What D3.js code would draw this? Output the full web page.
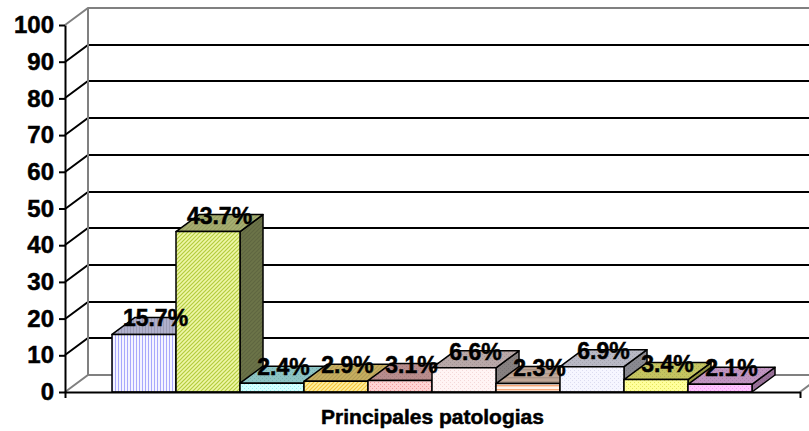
<!DOCTYPE html>
<html><head><meta charset="utf-8">
<script src="https://cdn.jsdelivr.net/npm/d3@7"></script>
<style>
body{margin:0;background:#fff}
svg{display:block}
text{font-family:"Liberation Sans",Arial,sans-serif;font-weight:bold;fill:#000;stroke:#000;stroke-width:0.5px}
</style>
</head><body>
<svg id="c" width="809" height="431"></svg>
<script>
// ---- data ----
const categories = ["Principales patologias"];
const seriesNames = ["Patología 1","Patología 2","Patología 3","Patología 4","Patología 5","Patología 6","Patología 7","Patología 8","Patología 9","Patología 10"];
const values = [15.7, 43.7, 2.4, 2.9, 3.1, 6.6, 2.3, 6.9, 3.4, 2.1];
const valueLabels = ["15.7%","43.7%","2.4%","2.9%","3.1%","6.6%","2.3%","6.9%","3.4%","2.1%"];
const yTicks = [0,10,20,30,40,50,60,70,80,90,100];

// ---- styles ----
const styles = [
  {base:"#f4f4ff", ink:"#a8a8fc", kind:"v",   top:"#b0b0cc", side:"#8888a0"},
  {base:"#eef6a8", ink:"#b4cc3c", kind:"d",   top:"#a8b070", side:"#6c7448"},
  {base:"#d4ffff", ink:"#98eeee", kind:"dot", top:"#8cc4c4", side:"#6a9898"},
  {base:"#fff0a0", ink:"#f4c43c", kind:"d",   top:"#c8b060", side:"#988840"},
  {base:"#ffd4d4", ink:"#f09c9c", kind:"dot", top:"#b88c8c", side:"#906868"},
  {base:"#fff4f4", ink:"#f4d8d8", kind:"dot", top:"#b8a8a8", side:"#868080"},
  {base:"#fff4ec", ink:"#f8a878", kind:"h",   top:"#c0a898", side:"#907868"},
  {base:"#f6f6ff", ink:"#dcdcf0", kind:"dot", top:"#b8b8c4", side:"#888890"},
  {base:"#ffff9c", ink:"#e4e45c", kind:"dot", top:"#c4c460", side:"#949440"},
  {base:"#ffc4ff", ink:"#ee9cee", kind:"dot", top:"#c094c0", side:"#987098"}
];

const W = 809, H = 431;
const plot = {left:65, right:800, bottom:392, top:25};
const depth = {dx:23, dy:-17};
const svg = d3.select("#c");

const y = d3.scaleLinear().domain([0,100]).range([plot.bottom, plot.top]);
const xCat = d3.scaleBand().domain(categories).range([plot.left, plot.right]);
const xSer = d3.scaleBand().domain(d3.range(values.length))
  .range([xCat(categories[0]) + 47, xCat(categories[0]) + xCat.bandwidth() - 48]).padding(0);
const bw = xSer.bandwidth();

// ---- patterns ----
const defs = svg.append("defs");
function makePattern(id, base, ink, kind) {
  const n = kind === "v" ? 3 : 4;
  const p = defs.append("pattern").attr("id", id).attr("patternUnits","userSpaceOnUse")
    .attr("width",n).attr("height",n);
  p.append("rect").attr("width",n).attr("height",n).attr("fill",base);
  if (kind === "v") {
    p.append("rect").attr("x",1).attr("y",0).attr("width",1).attr("height",n).attr("fill",ink);
  } else if (kind === "h") {
    p.append("rect").attr("x",0).attr("y",1).attr("width",n).attr("height",1.4).attr("fill",ink);
  } else if (kind === "d") {
    p.append("path").attr("d","M0,4L4,0M-1,1L1,-1M3,5L5,3").attr("stroke",ink).attr("stroke-width",1.2);
  } else {
    p.append("rect").attr("x",0).attr("y",0).attr("width",1).attr("height",1).attr("fill",ink);
    p.append("rect").attr("x",2).attr("y",2).attr("width",1).attr("height",1).attr("fill",ink);
  }
}
styles.forEach((s,i) => {
  makePattern("f"+i, s.base, s.ink, s.kind);
  makePattern("t"+i, s.top, d3.color(s.top).darker(0.35).formatHex(), s.kind);
  makePattern("s"+i, s.side, d3.color(s.side).darker(0.35).formatHex(), s.kind);
});

// ---- walls & gridlines ----
const g = svg.append("g");
const backRight = plot.right + depth.dx;
yTicks.filter(v => v > 0).forEach(v => {
  const yy = Math.round(y(v));
  g.append("path")
    .attr("d", `M${plot.left},${yy}L${plot.left+depth.dx},${yy+depth.dy}L${backRight+20},${yy+depth.dy}`)
    .attr("fill","none")
    .attr("stroke", v === 100 ? "#808080" : "#000")
    .attr("stroke-width", 2);
});
g.append("line").attr("x1",plot.left+depth.dx).attr("x2",plot.left+depth.dx)
  .attr("y1",y(100)+depth.dy).attr("y2",y(0)+depth.dy)
  .attr("stroke","#808080").attr("stroke-width",2);
g.append("path")
  .attr("d",`M${plot.left},${y(0)}L${plot.left+depth.dx},${y(0)+depth.dy}L${backRight},${y(0)+depth.dy}L${plot.right},${y(0)}`)
  .attr("fill","none").attr("stroke","#808080").attr("stroke-width",2);

// ---- bars ----
const bars = svg.append("g");
values.forEach((v,i) => {
  const x0 = xSer(i), x1 = x0 + bw, yt = y(v), yb = y(0);
  const {dx, dy} = depth;
  const gb = bars.append("g").attr("stroke","#000").attr("stroke-width",1.5).attr("stroke-linejoin","round");
  gb.append("path").attr("d",`M${x1},${yt}L${x1+dx},${yt+dy}L${x1+dx},${yb+dy}L${x1},${yb}Z`)
    .attr("fill",`url(#s${i})`);
  gb.append("path").attr("d",`M${x0},${yt}L${x0+dx},${yt+dy}L${x1+dx},${yt+dy}L${x1},${yt}Z`)
    .attr("fill",`url(#t${i})`);
  gb.append("rect").attr("x",x0).attr("y",yt).attr("width",bw).attr("height",yb-yt)
    .attr("fill",`url(#f${i})`);
});

// ---- axes ----
const yAxis = d3.axisLeft(y).tickValues(yTicks).tickSize(6).tickSizeOuter(0).tickPadding(5);
const ya = svg.append("g").attr("transform",`translate(${plot.left},0)`).call(yAxis);
ya.select(".domain").attr("stroke","#000").attr("stroke-width",2);
ya.selectAll(".tick line").attr("stroke","#000").attr("stroke-width",2);
ya.selectAll(".tick text").attr("font-size",24).attr("font-weight","bold")
  .attr("font-family",'"Liberation Sans",Arial,sans-serif').attr("fill","#000")
  .attr("stroke","#000").attr("stroke-width",0.5);

const xAxis = d3.axisBottom(d3.scaleLinear().domain([0,1]).range([plot.left, plot.right]))
  .tickValues([0,1]).tickFormat("").tickSize(6).tickSizeOuter(0);
const xa = svg.append("g").attr("transform",`translate(0,${plot.bottom})`).call(xAxis);
xa.select(".domain").attr("stroke","#000").attr("stroke-width",2);
xa.selectAll(".tick line").attr("stroke","#000").attr("stroke-width",2);

// ---- value labels ----
svg.append("g").selectAll("text").data(values).join("text")
  .attr("x",(v,i) => xSer(i) + bw/2 + depth.dx/2)
  .attr("y",v => y(v) - 8)
  .attr("text-anchor","middle")
  .attr("font-size",23)
  .text((v,i) => valueLabels[i]);

// ---- category title ----
svg.append("text")
  .attr("x", xCat(categories[0]) + xCat.bandwidth()/2)
  .attr("y", 424)
  .attr("text-anchor","middle")
  .attr("font-size",21)
  .attr("stroke-width",0.3)
  .text(categories[0]);
</script>
</body></html>
